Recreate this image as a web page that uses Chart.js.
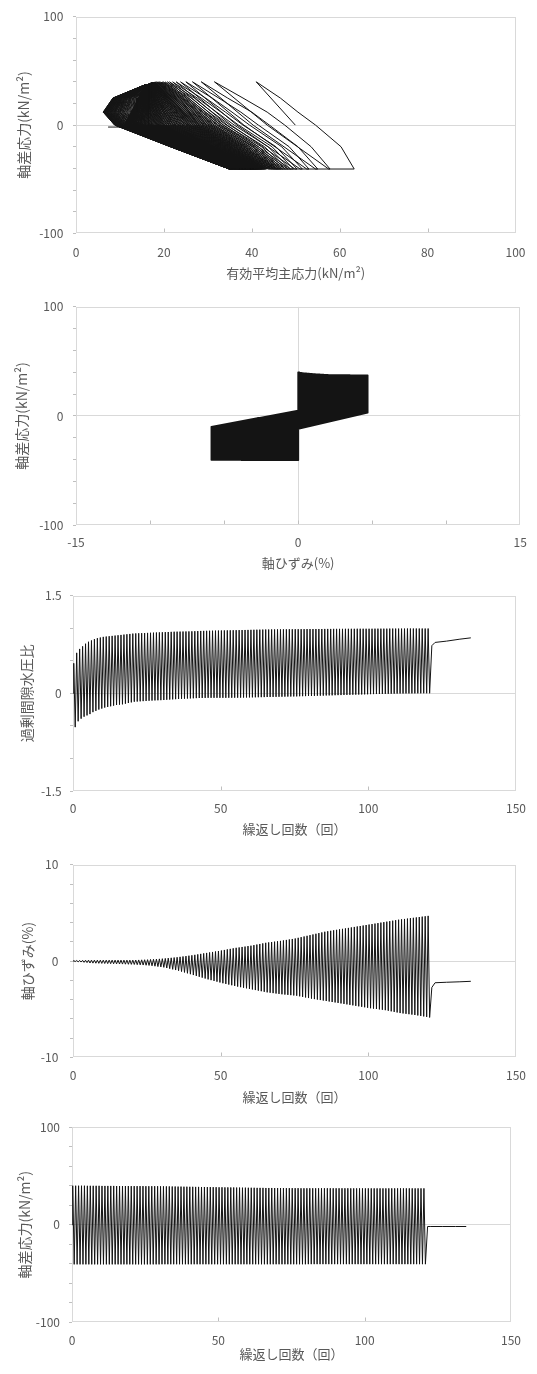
<!DOCTYPE html>
<html lang="ja">
<head>
<meta charset="utf-8">
<title>繰返し非排水三軸試験</title>
<script src="https://cdn.jsdelivr.net/npm/chart.js@4.4.1/dist/chart.umd.min.js"></script>
<style>
  html, body { margin: 0; padding: 0; background: #fff; }
  body { position: relative; width: 537px; height: 1374px; overflow: hidden; }
  canvas { position: absolute; left: 0; }
</style>
</head>
<body>
<canvas id="pathChart"></canvas>
<canvas id="hystChart"></canvas>
<canvas id="poreChart"></canvas>
<canvas id="strainChart"></canvas>
<canvas id="stressChart"></canvas>
<script>
// ---- data (one entry per loading cycle, 121 cycles) ----

// deviator stress at the compression / extension peak of each cycle (kN/m2)
const stressPeak = [
  40, 40, 40, 40, 40, 39.9, 39.9, 39.9, 39.9, 39.9,
  39.8, 39.8, 39.8, 39.8, 39.8, 39.7, 39.7, 39.7, 39.7, 39.7,
  39.6, 39.6, 39.6, 39.6, 39.6, 39.5, 39.5, 39.5, 39.5, 39.5,
  39.4, 39.4, 39.3, 39.3, 39.2, 39.2, 39.1, 39.1, 39, 39,
  38.9, 38.9, 38.8, 38.8, 38.7, 38.7, 38.6, 38.6, 38.5, 38.5,
  38.4, 38.4, 38.3, 38.3, 38.2, 38.2, 38.1, 38.1, 38, 38,
  37.9, 37.9, 37.9, 37.8, 37.8, 37.8, 37.7, 37.7, 37.7, 37.6,
  37.6, 37.6, 37.6, 37.5, 37.5, 37.5, 37.5, 37.5, 37.4, 37.4,
  37.4, 37.4, 37.4, 37.4, 37.4, 37.4, 37.4, 37.4, 37.4, 37.4,
  37.4, 37.4, 37.4, 37.4, 37.4, 37.3, 37.3, 37.3, 37.3, 37.3,
  37.3, 37.3, 37.3, 37.3, 37.3, 37.3, 37.3, 37.3, 37.3, 37.3,
  37.3, 37.3, 37.3, 37.3, 37.3, 37.3, 37.3, 37.3, 37.3, 37.3,
  37.3
];
const stressTrough = [
  -40.6, -40.6, -40.6, -40.6, -40.6, -40.6, -40.6, -40.6, -40.6, -40.6,
  -40.6, -40.6, -40.6, -40.6, -40.6, -40.6, -40.6, -40.6, -40.6, -40.6,
  -40.6, -40.6, -40.6, -40.6, -40.6, -40.6, -40.6, -40.6, -40.6, -40.6,
  -40.5, -40.5, -40.5, -40.5, -40.5, -40.5, -40.5, -40.5, -40.5, -40.5,
  -40.5, -40.5, -40.5, -40.5, -40.5, -40.5, -40.5, -40.5, -40.5, -40.5,
  -40.5, -40.5, -40.5, -40.5, -40.5, -40.5, -40.5, -40.5, -40.5, -40.5,
  -40.5, -40.5, -40.5, -40.5, -40.5, -40.5, -40.5, -40.5, -40.5, -40.5,
  -40.5, -40.5, -40.5, -40.5, -40.5, -40.5, -40.5, -40.5, -40.5, -40.5,
  -40.4, -40.4, -40.4, -40.4, -40.4, -40.4, -40.4, -40.4, -40.4, -40.4,
  -40.4, -40.4, -40.4, -40.4, -40.4, -40.4, -40.4, -40.4, -40.4, -40.4,
  -40.4, -40.4, -40.4, -40.4, -40.4, -40.4, -40.4, -40.4, -40.4, -40.4,
  -40.4, -40.4, -40.4, -40.4, -40.4, -40.4, -40.4, -40.4, -40.4, -40.4,
  -40.4
];

// excess pore water pressure ratio, max / min of each cycle
const porePeak = [
  0.46, 0.62, 0.68, 0.72, 0.76, 0.79, 0.81, 0.83, 0.845, 0.855,
  0.865, 0.87, 0.875, 0.88, 0.885, 0.89, 0.895, 0.9, 0.905, 0.91,
  0.915, 0.918, 0.92, 0.922, 0.924, 0.926, 0.928, 0.93, 0.932, 0.934,
  0.936, 0.938, 0.94, 0.942, 0.944, 0.945, 0.946, 0.947, 0.948, 0.949,
  0.95, 0.952, 0.954, 0.956, 0.957, 0.958, 0.959, 0.96, 0.961, 0.962,
  0.963, 0.964, 0.965, 0.966, 0.967, 0.968, 0.969, 0.97, 0.971, 0.972,
  0.973, 0.974, 0.975, 0.976, 0.977, 0.978, 0.978, 0.979, 0.979, 0.98,
  0.98, 0.981, 0.981, 0.982, 0.982, 0.983, 0.983, 0.984, 0.984, 0.985,
  0.985, 0.985, 0.986, 0.986, 0.986, 0.987, 0.987, 0.987, 0.988, 0.988,
  0.988, 0.988, 0.989, 0.989, 0.989, 0.989, 0.99, 0.99, 0.99, 0.99,
  0.99, 0.99, 0.991, 0.991, 0.991, 0.991, 0.991, 0.992, 0.992, 0.992,
  0.992, 0.992, 0.992, 0.993, 0.993, 0.993, 0.993, 0.993, 0.993, 0.993,
  0.993
];
const poreTrough = [
  -0.52, -0.43, -0.39, -0.36, -0.34, -0.32, -0.29, -0.27, -0.25, -0.235,
  -0.22, -0.21, -0.2, -0.19, -0.18, -0.175, -0.17, -0.16, -0.15, -0.14,
  -0.13, -0.127, -0.124, -0.121, -0.118, -0.115, -0.112, -0.11, -0.108, -0.106,
  -0.104, -0.1, -0.097, -0.094, -0.091, -0.088, -0.085, -0.083, -0.081, -0.079,
  -0.077, -0.075, -0.073, -0.072, -0.071, -0.07, -0.07, -0.07, -0.07, -0.07,
  -0.07, -0.07, -0.069, -0.069, -0.068, -0.068, -0.067, -0.066, -0.065, -0.064,
  -0.063, -0.062, -0.061, -0.06, -0.059, -0.058, -0.057, -0.056, -0.055, -0.054,
  -0.053, -0.052, -0.051, -0.05, -0.049, -0.048, -0.046, -0.045, -0.044, -0.042,
  -0.041, -0.04, -0.038, -0.037, -0.036, -0.034, -0.033, -0.032, -0.03, -0.029,
  -0.028, -0.026, -0.025, -0.024, -0.022, -0.021, -0.02, -0.018, -0.017, -0.016,
  -0.014, -0.013, -0.012, -0.011, -0.01, -0.009, -0.008, -0.007, -0.006, -0.005,
  -0.004, -0.004, -0.003, -0.003, -0.002, -0.002, -0.001, -0.001, 0, 0,
  0
];

// axial strain (%) at the compression / extension peak of each cycle
const strainPeak = [
  0.05, 0.06, 0.07, 0.08, 0.09, 0.1, 0.1, 0.1, 0.1, 0.1,
  0.1, 0.1, 0.1, 0.1, 0.1, 0.1, 0.1, 0.1, 0.1, 0.1,
  0.1, 0.11, 0.12, 0.13, 0.14, 0.15, 0.17, 0.19, 0.21, 0.23,
  0.25, 0.28, 0.31, 0.34, 0.37, 0.4, 0.44, 0.48, 0.52, 0.56,
  0.6, 0.65, 0.7, 0.75, 0.8, 0.85, 0.9, 0.95, 1.0, 1.05,
  1.1, 1.16, 1.22, 1.27, 1.33, 1.38, 1.42, 1.47, 1.51, 1.56,
  1.6, 1.66, 1.72, 1.78, 1.84, 1.9, 1.94, 1.98, 2.02, 2.06,
  2.1, 2.15, 2.2, 2.25, 2.3, 2.35, 2.42, 2.49, 2.56, 2.63,
  2.7, 2.77, 2.84, 2.91, 2.98, 3.05, 3.1, 3.15, 3.2, 3.25,
  3.3, 3.35, 3.4, 3.45, 3.5, 3.55, 3.6, 3.65, 3.7, 3.75,
  3.8, 3.85, 3.9, 3.95, 4.0, 4.05, 4.1, 4.15, 4.2, 4.25,
  4.3, 4.34, 4.38, 4.42, 4.46, 4.5, 4.54, 4.58, 4.62, 4.66,
  4.7
];
const strainTrough = [
  -0.05, -0.08, -0.1, -0.13, -0.16, -0.2, -0.21, -0.22, -0.23, -0.24,
  -0.25, -0.26, -0.27, -0.28, -0.29, -0.3, -0.31, -0.32, -0.33, -0.34,
  -0.35, -0.37, -0.39, -0.41, -0.43, -0.45, -0.49, -0.53, -0.57, -0.61,
  -0.65, -0.72, -0.79, -0.86, -0.93, -1.0, -1.09, -1.18, -1.27, -1.36,
  -1.45, -1.54, -1.63, -1.72, -1.81, -1.9, -1.98, -2.06, -2.14, -2.22,
  -2.3, -2.37, -2.44, -2.51, -2.58, -2.65, -2.71, -2.77, -2.83, -2.89,
  -2.95, -3.01, -3.07, -3.13, -3.19, -3.25, -3.29, -3.33, -3.37, -3.41,
  -3.45, -3.48, -3.51, -3.54, -3.57, -3.6, -3.66, -3.72, -3.78, -3.84,
  -3.9, -3.95, -4.0, -4.05, -4.1, -4.15, -4.2, -4.25, -4.3, -4.35,
  -4.4, -4.45, -4.5, -4.55, -4.6, -4.65, -4.7, -4.75, -4.8, -4.85,
  -4.9, -4.94, -4.98, -5.02, -5.06, -5.1, -5.16, -5.22, -5.28, -5.34,
  -5.4, -5.44, -5.48, -5.52, -5.56, -5.6, -5.65, -5.7, -5.75, -5.8,
  -5.86
];

// effective stress path p' (kN/m2) per cycle:
// zero crossing on the way up, compression peak, then points on the way down
const pathUpZero = [
  49.9, 43.5, 40.3, 38.2, 36.6, 35.3, 34.4, 33.6, 32.9, 32.2,
  31.5, 31.1, 30.7, 30.3, 29.9, 29.6, 29.2, 28.9, 28.6, 28.3,
  28.0, 27.7, 27.5, 27.2, 27.0, 26.7, 26.5, 26.2, 26.0, 25.7,
  25.5, 25.2, 24.9, 24.6, 24.3, 24.0, 23.7, 23.4, 23.1, 22.8,
  22.5, 22.2, 22.0, 21.7, 21.5, 21.2, 21.0, 20.7, 20.5, 20.2,
  20.0, 19.8, 19.6, 19.4, 19.2, 19.0, 18.8, 18.6, 18.4, 18.2,
  18.0, 17.8, 17.6, 17.4, 17.2, 17.1, 16.9, 16.7, 16.5, 16.4,
  16.2, 16.1, 15.9, 15.8, 15.6, 15.5, 15.4, 15.2, 15.1, 14.9,
  14.8, 14.7, 14.6, 14.5, 14.4, 14.2, 14.1, 14.0, 13.9, 13.7,
  13.6, 13.5, 13.4, 13.3, 13.2, 13.1, 13.0, 12.9, 12.8, 12.7,
  12.6, 12.5, 12.4, 12.3, 12.3, 12.2, 12.1, 12.0, 11.9, 11.9,
  11.8, 11.7, 11.6, 11.6, 11.5, 11.4, 11.3, 11.2, 11.2, 11.1,
  11.0
];
const pathTop = [
  41, 31.5, 28.5, 26.5, 25, 23.8, 22.8, 22, 21.3, 20.8,
  20.3, 19.9, 19.6, 19.3, 19.0, 18.8, 18.6, 18.4, 18.3, 18.1,
  18.0, 17.9, 17.8, 17.8, 17.7, 17.6, 17.6, 17.5, 17.4, 17.4,
  17.3, 17.3, 17.3, 17.2, 17.2, 17.2, 17.1, 17.1, 17.1, 17.0,
  17.0, 17.0, 17.0, 16.9, 16.9, 16.9, 16.9, 16.8, 16.8, 16.8,
  16.8, 16.8, 16.7, 16.7, 16.7, 16.7, 16.7, 16.6, 16.6, 16.6,
  16.6, 16.6, 16.6, 16.5, 16.5, 16.5, 16.5, 16.5, 16.5, 16.4,
  16.4, 16.4, 16.4, 16.4, 16.4, 16.3, 16.3, 16.3, 16.3, 16.3,
  16.3, 16.3, 16.2, 16.2, 16.2, 16.2, 16.2, 16.2, 16.1, 16.1,
  16.1, 16.1, 16.1, 16.1, 16.1, 16.0, 16.0, 16.0, 16.0, 16.0,
  16.0, 16.0, 16.0, 15.9, 15.9, 15.9, 15.9, 15.9, 15.9, 15.9,
  15.9, 15.8, 15.8, 15.8, 15.8, 15.8, 15.8, 15.8, 15.8, 15.8,
  15.8
];
// deviator stress levels at which the descending branch was read
const pathDownStress = [25, 12, 0, -20];
const pathDownA = [
  46.5, 38, 34.5, 32.5, 31, 29.5, 28.5, 27.6, 26.9, 26.2,
  25.5, 25.1, 24.7, 24.3, 23.9, 23.5, 23.1, 22.7, 22.3, 21.9,
  21.5, 21.2, 20.9, 20.6, 20.3, 20.0, 19.7, 19.4, 19.1, 18.8,
  18.5, 18.2, 18.0, 17.7, 17.5, 17.2, 17.0, 16.7, 16.5, 16.2,
  16.0, 15.8, 15.6, 15.4, 15.2, 15.0, 14.8, 14.6, 14.4, 14.2,
  14.0, 13.8, 13.7, 13.5, 13.4, 13.2, 13.1, 12.9, 12.8, 12.6,
  12.5, 12.4, 12.3, 12.2, 12.1, 12.0, 11.8, 11.7, 11.6, 11.5,
  11.4, 11.3, 11.2, 11.1, 11.0, 11.0, 10.9, 10.8, 10.7, 10.6,
  10.5, 10.4, 10.4, 10.3, 10.2, 10.2, 10.1, 10.0, 10.0, 9.9,
  9.8, 9.7, 9.7, 9.6, 9.6, 9.5, 9.4, 9.4, 9.3, 9.3,
  9.2, 9.2, 9.1, 9.1, 9.0, 9.0, 9.0, 8.9, 8.9, 8.9,
  8.8, 8.8, 8.7, 8.7, 8.6, 8.6, 8.6, 8.5, 8.5, 8.4,
  8.4
];
const pathDownB = [
  50.5, 43.5, 40, 37.5, 35.5, 34, 33, 32, 31, 30.2,
  29.5, 29, 28.5, 28, 27.5, 27, 26.5, 26, 25.5, 25,
  24.5, 24.1, 23.7, 23.3, 22.9, 22.5, 22.1, 21.7, 21.3, 20.9,
  20.5, 20.1, 19.8, 19.4, 19.1, 18.7, 18.4, 18.0, 17.7, 17.3,
  17.0, 16.7, 16.4, 16.1, 15.8, 15.5, 15.2, 14.9, 14.6, 14.3,
  14.0, 13.8, 13.5, 13.3, 13.1, 12.9, 12.6, 12.4, 12.2, 12.0,
  11.8, 11.6, 11.5, 11.3, 11.1, 11.0, 10.8, 10.7, 10.5, 10.4,
  10.2, 10.1, 10.0, 9.9, 9.8, 9.6, 9.5, 9.4, 9.2, 9.1,
  9.0, 8.9, 8.8, 8.7, 8.6, 8.5, 8.4, 8.3, 8.2, 8.1,
  8.0, 7.9, 7.8, 7.8, 7.7, 7.6, 7.5, 7.4, 7.4, 7.3,
  7.2, 7.1, 7.1, 7.0, 7.0, 6.9, 6.8, 6.8, 6.7, 6.7,
  6.6, 6.6, 6.5, 6.5, 6.4, 6.4, 6.3, 6.3, 6.3, 6.2,
  6.2
];
const pathDownC = [
  54.5, 47.5, 44, 41.5, 39.5, 38, 37, 36, 35, 34.2,
  33.5, 33, 32.5, 32, 31.5, 31, 30.5, 30, 29.5, 29,
  28.5, 28, 27.6, 27.1, 26.7, 26.2, 25.8, 25.3, 24.9, 24.4,
  24.0, 23.6, 23.2, 22.8, 22.4, 22.0, 21.6, 21.2, 20.8, 20.4,
  20.0, 19.7, 19.3, 19.0, 18.7, 18.4, 18.1, 17.7, 17.4, 17.1,
  16.8, 16.5, 16.3, 16.0, 15.8, 15.5, 15.3, 15.0, 14.8, 14.5,
  14.3, 14.1, 13.9, 13.8, 13.6, 13.4, 13.3, 13.1, 12.9, 12.8,
  12.6, 12.5, 12.4, 12.3, 12.2, 12.0, 11.9, 11.8, 11.7, 11.5,
  11.4, 11.3, 11.2, 11.1, 11.0, 10.9, 10.8, 10.7, 10.7, 10.6,
  10.5, 10.4, 10.4, 10.3, 10.2, 10.2, 10.1, 10.0, 10.0, 9.9,
  9.8, 9.7, 9.7, 9.6, 9.6, 9.5, 9.5, 9.4, 9.3, 9.3,
  9.2, 9.2, 9.1, 9.1, 9.0, 9.0, 9.0, 8.9, 8.9, 8.8,
  8.8
];
const pathDownD = [
  60.3, 53.5, 50.5, 48.5, 46.8, 45.5, 44.6, 43.7, 42.9, 42.2,
  41.5, 41, 40.5, 40.1, 39.6, 39.2, 38.7, 38.3, 37.8, 37.4,
  37.0, 36.6, 36.2, 35.8, 35.4, 35.0, 34.6, 34.2, 33.8, 33.4,
  33.0, 32.6, 32.3, 31.9, 31.6, 31.2, 30.9, 30.5, 30.2, 29.8,
  29.5, 29.2, 29.0, 28.7, 28.5, 28.2, 28.0, 27.7, 27.5, 27.2,
  27.0, 26.8, 26.6, 26.4, 26.2, 26.0, 25.8, 25.6, 25.4, 25.2,
  25.0, 24.9, 24.8, 24.6, 24.5, 24.4, 24.3, 24.2, 24.0, 23.9,
  23.8, 23.7, 23.6, 23.6, 23.5, 23.4, 23.3, 23.2, 23.2, 23.1,
  23.0, 23.0, 22.9, 22.9, 22.8, 22.8, 22.7, 22.7, 22.6, 22.6,
  22.5, 22.5, 22.4, 22.4, 22.3, 22.3, 22.2, 22.2, 22.1, 22.1,
  22.0, 22.0, 22.0, 21.9, 21.9, 21.9, 21.8, 21.8, 21.8, 21.7,
  21.7, 21.7, 21.7, 21.6, 21.6, 21.6, 21.6, 21.5, 21.5, 21.5,
  21.5
];
// p' where the path reaches and leaves the extension peak
const pathBotIn = [
  63.3, 57.8, 55, 53, 51.5, 50.3, 49.5, 48.8, 48.2, 47.6,
  47.0, 46.6, 46.3, 45.9, 45.6, 45.2, 44.9, 44.5, 44.2, 43.8,
  43.5, 43.2, 43.0, 42.7, 42.5, 42.2, 42.0, 41.7, 41.5, 41.2,
  41.0, 40.8, 40.5, 40.3, 40.1, 39.9, 39.7, 39.4, 39.2, 39.0,
  38.8, 38.7, 38.5, 38.4, 38.3, 38.1, 38.0, 37.9, 37.8, 37.6,
  37.5, 37.4, 37.3, 37.2, 37.1, 37.0, 36.9, 36.8, 36.8, 36.7,
  36.6, 36.5, 36.5, 36.4, 36.4, 36.3, 36.2, 36.2, 36.1, 36.1,
  36.0, 36.0, 35.9, 35.9, 35.8, 35.8, 35.8, 35.7, 35.7, 35.6,
  35.6, 35.6, 35.5, 35.5, 35.5, 35.4, 35.4, 35.4, 35.3, 35.3,
  35.3, 35.3, 35.2, 35.2, 35.2, 35.2, 35.1, 35.1, 35.1, 35.1,
  35.1, 35.0, 35.0, 35.0, 35.0, 35.0, 34.9, 34.9, 34.9, 34.9,
  34.9, 34.9, 34.9, 34.8, 34.8, 34.8, 34.8, 34.8, 34.8, 34.8,
  34.8
];
const pathBotOut = [
  57.5, 54.5, 52.5, 51, 49.8, 48.8, 48.2, 47.6, 47.0, 46.5,
  46.0, 45.7, 45.4, 45.2, 44.9, 44.6, 44.4, 44.1, 43.9, 43.7,
  43.5, 43.3, 43.2, 43.0, 42.9, 42.7, 42.6, 42.4, 42.3, 42.1,
  42.0, 41.9, 41.8, 41.7, 41.6, 41.5, 41.4, 41.3, 41.2, 41.1,
  41.0, 40.9, 40.9, 40.8, 40.7, 40.7, 40.6, 40.5, 40.5, 40.4,
  40.4, 40.4, 40.3, 40.3, 40.2, 40.2, 40.1, 40.1, 40.0, 40.0,
  40.0, 40.0, 39.9, 39.9, 39.8, 39.8, 39.7, 39.7, 39.6, 39.6,
  39.5, 39.5, 39.4, 39.4, 39.3, 39.3, 39.2, 39.2, 39.1, 39.1,
  39.0, 39.0, 38.9, 38.9, 38.8, 38.8, 38.7, 38.7, 38.6, 38.6,
  38.5, 38.5, 38.4, 38.4, 38.3, 38.3, 38.2, 38.2, 38.1, 38.1,
  38.0, 38.0, 37.9, 37.9, 37.8, 37.8, 37.7, 37.7, 37.6, 37.6,
  37.5, 37.5, 37.4, 37.4, 37.3, 37.3, 37.2, 37.2, 37.1, 37.1,
  37.0
];

// stress-strain loop knees: strain where stiffness returns, and the
// deviator stress at the start/end of the soft (liquefied) branches
const kneeStrain = 0;
const kneeStressRise = [-10, 5];
const kneeStressFall = [3, -12];

// after cyclic loading stops (cycles 121-135)
const postCycle = [121.5, 122.6, 126.5, 131, 134.7];
const postStress = [-1.8, -1.8, -1.8, -1.8, -1.8];
const postPore = [0.73, 0.78, 0.8, 0.83, 0.85];
const postStrain = [-2.74, -2.25, -2.2, -2.15, -2.1];
const postMeanStress = [12.2, 10.8, 9.3, 8.2, 7.3];

// phase of the peak / trough inside a cycle
const PEAK_PHASE = 0.25;
const TROUGH_PHASE = 0.75;

// ---- styling ----
const FONT = '"Noto Sans CJK JP", "Noto Sans", sans-serif';
const TEXT_GRAY = '#595959';
const FRAME_GRAY = '#d9d9d9';
const TICK_GRAY = '#bfbfbf';
const LINE_COLOR = '#141414';
const TICK_SIZE = 12;
const X_TITLE_SIZE = 13;
const Y_TITLE_SIZE = 14;
const PAGE_W = 537;

// ---- building the point lists ----
function cycleSeries(peaks, troughs, post) {
  const pts = [{ x: 0, y: 0 }];
  peaks.forEach((p, i) => {
    pts.push({ x: i + PEAK_PHASE, y: p });
    pts.push({ x: i + TROUGH_PHASE, y: troughs[i] });
  });
  postCycle.forEach((c, k) => pts.push({ x: c, y: post[k] }));
  return pts;
}

function stressPathSeries() {
  const down = [pathDownA, pathDownB, pathDownC, pathDownD];
  const pts = [];
  pathTop.forEach((top, i) => {
    pts.push({ x: pathUpZero[i], y: 0 });
    pts.push({ x: top, y: stressPeak[i] });
    pathDownStress.forEach((q, k) => pts.push({ x: down[k][i], y: q }));
    pts.push({ x: pathBotIn[i], y: stressTrough[i] });
    pts.push({ x: pathBotOut[i], y: stressTrough[i] });
  });
  postCycle.forEach((c, k) => pts.push({ x: postMeanStress[k], y: postStress[k] }));
  return pts;
}

function hysteresisSeries() {
  const pts = [{ x: 0, y: 0 }];
  strainPeak.forEach((ePk, i) => {
    if (i > 0) pts.push({ x: strainTrough[i - 1], y: kneeStressRise[0] });
    pts.push({ x: kneeStrain, y: kneeStressRise[1] });
    pts.push({ x: kneeStrain, y: stressPeak[i] });
    pts.push({ x: ePk, y: stressPeak[i] });
    pts.push({ x: ePk, y: kneeStressFall[0] });
    pts.push({ x: kneeStrain, y: kneeStressFall[1] });
    pts.push({ x: kneeStrain, y: stressTrough[i] });
    pts.push({ x: strainTrough[i], y: stressTrough[i] });
  });
  pts.push({ x: strainTrough[strainTrough.length - 1], y: kneeStressRise[0] });
  postCycle.forEach((c, k) => pts.push({ x: postStrain[k], y: postStress[k] }));
  return pts;
}

// frame around the plot area plus the short inner tick marks of the x axis
const plotFrame = {
  id: 'plotFrame',
  beforeDatasetsDraw(chart) {
    const { ctx, chartArea: a } = chart;
    const xs = chart.scales.x;
    const l = Math.round(a.left) + 0.5, t = Math.round(a.top) + 0.5;
    const r = Math.round(a.right) - 0.5, b = Math.round(a.bottom) - 0.5;
    ctx.save();
    ctx.lineWidth = 1;
    ctx.strokeStyle = TICK_GRAY;
    xs.ticks.forEach(tk => {
      if (tk.value <= xs.min || tk.value >= xs.max) return;
      const px = Math.round(xs.getPixelForValue(tk.value)) + 0.5;
      ctx.beginPath();
      ctx.moveTo(px, b);
      ctx.lineTo(px, b - 4);
      ctx.stroke();
    });
    ctx.strokeStyle = FRAME_GRAY;
    ctx.strokeRect(l, t, r - l, b - t);
    ctx.restore();
  }
};

function drawPlot(id, box, xAxis, yAxis, points, lineWidth) {
  const canvas = document.getElementById(id);
  const top = Math.max(0, Math.floor(box.top) - 8);
  const height = Math.ceil(box.bottom + box.titleGap + 12) - top;
  canvas.width = PAGE_W;
  canvas.height = height;
  canvas.style.top = top + 'px';

  const xTitleLine = X_TITLE_SIZE * 1.2;
  const yTitleLine = Y_TITLE_SIZE * 1.2;
  const xAxisHeight = box.titleGap + xTitleLine / 2;
  const padBottom = height - (box.bottom - top) - xAxisHeight;
  const zeroGrid = (on) => (ctx) => (on && ctx.tick && ctx.tick.value === 0) ? FRAME_GRAY : 'rgba(0,0,0,0)';

  new Chart(canvas, {
    type: 'scatter',
    data: {
      datasets: [{
        data: points,
        showLine: true,
        borderColor: LINE_COLOR,
        borderWidth: lineWidth || 1,
        borderJoinStyle: 'round',
        pointRadius: 0,
        pointHoverRadius: 0,
        tension: 0
      }]
    },
    options: {
      responsive: false,
      animation: false,
      devicePixelRatio: 1,
      events: [],
      layout: { padding: { top: box.top - top, right: PAGE_W - box.right, bottom: padBottom, left: 0 } },
      plugins: { legend: { display: false }, tooltip: { enabled: false } },
      scales: {
        x: {
          type: 'linear',
          min: xAxis.min,
          max: xAxis.max,
          border: { display: false },
          grid: { drawTicks: false, color: zeroGrid(xAxis.zeroLine) },
          ticks: {
            stepSize: xAxis.step,
            autoSkip: false,
            maxRotation: 0,
            padding: box.labelGap - TICK_SIZE * 0.6,
            color: TEXT_GRAY,
            font: { family: FONT, size: TICK_SIZE },
            callback: v => (v % xAxis.labelEvery === 0) ? String(v) : ''
          },
          title: {
            display: true,
            text: xAxis.title,
            color: TEXT_GRAY,
            font: { family: FONT, size: X_TITLE_SIZE },
            padding: 0
          },
          afterFit: s => { s.height = xAxisHeight; }
        },
        y: {
          type: 'linear',
          min: yAxis.min,
          max: yAxis.max,
          border: { display: false },
          grid: { drawTicks: true, tickLength: 3, tickColor: TICK_GRAY, color: zeroGrid(true) },
          ticks: {
            stepSize: yAxis.step,
            autoSkip: false,
            padding: box.yLabelGap - 3,
            color: TEXT_GRAY,
            font: { family: FONT, size: TICK_SIZE },
            callback: v => (v === 0 || Math.abs(v) === yAxis.max) ? String(v) : ''
          },
          title: {
            display: true,
            text: yAxis.title,
            color: TEXT_GRAY,
            font: { family: FONT, size: Y_TITLE_SIZE },
            padding: { top: box.yTitleX - yTitleLine / 2, bottom: 0 }
          },
          afterFit: s => { s.width = box.left; }
        }
      }
    },
    plugins: [plotFrame]
  });
}

const CYCLE_TITLE = '繰返し回数（回）';
const cycleAxis = { min: 0, max: 150, step: 50, labelEvery: 50, title: CYCLE_TITLE };

drawPlot('pathChart',
  { top: 7.3, bottom: 233.3, left: 76, right: 518, labelGap: 18.7, titleGap: 40, yLabelGap: 12.7, yTitleX: 24 },
  { min: 0, max: 100, step: 20, labelEvery: 20, title: '有効平均主応力(kN/m²)' },
  { min: -100, max: 100, step: 20, title: '軸差応力(kN/m²)' },
  stressPathSeries(), 1);

drawPlot('hystChart',
  { top: 298, bottom: 525, left: 76, right: 521, labelGap: 17.3, titleGap: 38.3, yLabelGap: 12.7, yTitleX: 22 },
  { min: -15, max: 15, step: 5, labelEvery: 15, title: '軸ひずみ(%)', zeroLine: true },
  { min: -100, max: 100, step: 20, title: '軸差応力(kN/m²)' },
  hysteresisSeries(), 1.6);

drawPlot('poreChart',
  { top: 588.3, bottom: 791, left: 73, right: 516, labelGap: 17.3, titleGap: 38.3, yLabelGap: 11.3, yTitleX: 27 },
  cycleAxis,
  { min: -1.5, max: 1.5, step: 0.5, title: '過剰間隙水圧比' },
  cycleSeries(porePeak, poreTrough, postPore), 1);

drawPlot('strainChart',
  { top: 854, bottom: 1057.3, left: 73, right: 516, labelGap: 17.7, titleGap: 39.7, yLabelGap: 14.7, yTitleX: 28 },
  cycleAxis,
  { min: -10, max: 10, step: 2, title: '軸ひずみ(%)' },
  cycleSeries(strainPeak, strainTrough, postStrain), 1);

drawPlot('stressChart',
  { top: 1119, bottom: 1322.3, left: 72, right: 511, labelGap: 17.7, titleGap: 32, yLabelGap: 12, yTitleX: 25 },
  cycleAxis,
  { min: -100, max: 100, step: 20, title: '軸差応力(kN/m²)' },
  cycleSeries(stressPeak, stressTrough, postStress), 1);
</script>
